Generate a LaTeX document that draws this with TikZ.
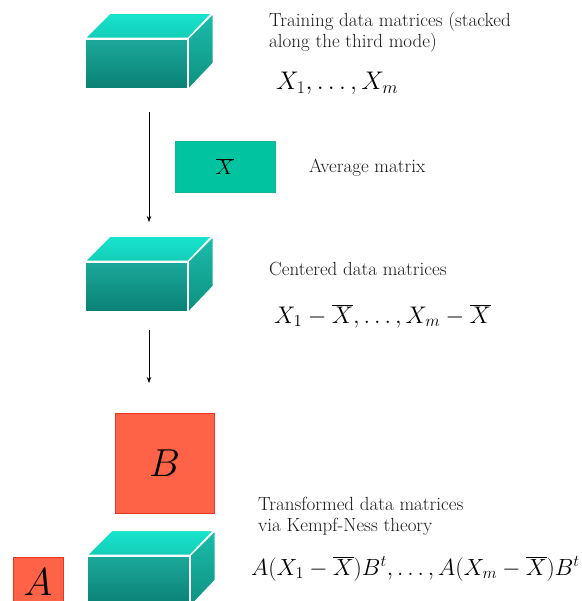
\documentclass[tikz,border=0pt]{standalone}
\usepackage{fix-cm}
\usetikzlibrary{arrows.meta}
\definecolor{ftop}{HTML}{1BA99B}
\definecolor{fbot}{HTML}{0A8074}
\definecolor{ttop}{HTML}{17E4CD}
\definecolor{tbot}{HTML}{14CDB8}
\definecolor{rtop}{HTML}{1BBDAC}
\definecolor{rbot}{HTML}{0E907F}
\definecolor{avgfill}{HTML}{00C4A0}
\definecolor{avgdraw}{HTML}{14B496}
\definecolor{redfill}{HTML}{FF6347}
\definecolor{reddraw}{HTML}{E8351F}
\begin{document}
\begin{tikzpicture}[x=1pt,y=-1pt,
  front/.style={minimum width=102pt,minimum height=50pt,inner sep=0pt,
    top color=ftop,bottom color=fbot,draw=white,line width=1.3pt},
  topface/.style={top color=ttop,bottom color=tbot,draw=white,line width=1.3pt},
  sideface/.style={top color=rtop,bottom color=rbot,draw=white,line width=1.3pt},
  lbl/.style={anchor=base west,inner sep=0pt,text=black!90,font=\fontsize{19}{20}\selectfont},
  mth/.style={anchor=base west,inner sep=0pt,font=\fontsize{24}{28}\selectfont},
  flow/.style={-{Stealth[length=6pt,width=4.5pt]},line width=0.7pt},
  avg/.style={fill=avgfill,draw=avgdraw,line width=0.6pt,minimum width=100pt,minimum height=51pt,inner sep=0pt,font=\fontsize{21}{24}\selectfont},
  redbox/.style={fill=redfill,draw=reddraw,line width=0.8pt,inner sep=0pt,font=\fontsize{39}{44}\selectfont}
]
\useasboundingbox (0,0) rectangle (581,601);
\clip (0,0) rectangle (581,601);
\def\cubesides#1{%
  \shade[topface] (#1.north west) -- ++(25,-25) -- ++(102,0) -- (#1.north east) -- cycle;
  \shade[sideface] (#1.north east) -- ++(25,-25) -- ++(0,50) -- (#1.south east) -- cycle;
}
% cube 1
\node[front] (c1) at (136.5,64) {};
\cubesides{c1}
\node[front] (c1) at (136.5,64) {};
% cube 2
\node[front] (c2) at (136.5,287) {};
\cubesides{c2}
\node[front] (c2) at (136.5,287) {};
% cube 3
\node[front] (c3) at (138.5,581) {};
\cubesides{c3}
\node[front] (c3) at (138.5,581) {};

% average box
\node[avg] (xbar) at (225,166.5) {$\overline{X}$};
% B and A
\node[redbox,minimum width=99pt,minimum height=100pt] (B) at (164.5,463) {$B$};
\node[redbox,minimum width=50pt,minimum height=50pt] (A) at (38,582) {$A$};

% arrows
\coordinate (a1s) at (149,112);
\coordinate (a1e) at (149,222);
\coordinate (a2s) at (149,330);
\coordinate (a2e) at (149,383);
\draw[flow] (a1s) -- (a1e);
\draw[flow] (a2s) -- (a2e);

% texts
\node[lbl] (t1) at (269,27) {Training data matrices (stacked};
\node[lbl] (t2) at (269,48) {along the third mode)};
\node[mth,font=\fontsize{25.5}{30}\selectfont] (m1) at (276,90) {$X_1,\ldots,X_m$};
\node[lbl,anchor=west] (t3) at (309,168) {Average matrix};
\node[lbl] (t4) at (269,275) {Centered data matrices};
\node[mth] (m2) at (274,323) {$X_1-\overline{X},\ldots,X_m-\overline{X}$};
\node[lbl] (t5) at (258,510) {Transformed data matrices};
\node[lbl] (t6) at (258,531) {via Kempf-Ness theory};
\node[mth,font=\fontsize{23.4}{27}\selectfont] (m3) at (251,575) {$A(X_1-\overline{X})B^t,\ldots,A(X_m-\overline{X})B^t$};
\end{tikzpicture}
\end{document}
